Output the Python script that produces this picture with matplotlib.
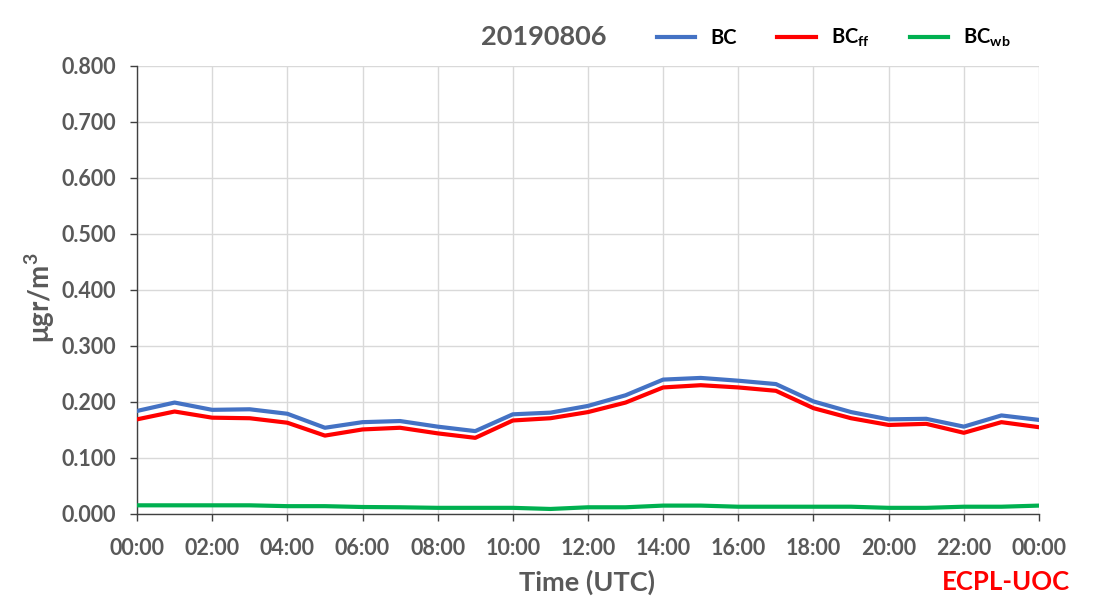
import matplotlib
matplotlib.use("Agg")
import matplotlib.pyplot as plt

hours = list(range(25))
bc = [0.184, 0.199, 0.186, 0.187, 0.179, 0.154, 0.164, 0.166, 0.156, 0.148, 0.178, 0.181, 0.193,
      0.212, 0.240, 0.243, 0.238, 0.232, 0.201, 0.182, 0.169, 0.170, 0.156, 0.176, 0.168]
bc_ff = [0.169, 0.183, 0.172, 0.171, 0.163, 0.140, 0.151, 0.154, 0.144, 0.136, 0.167, 0.171, 0.182,
         0.199, 0.226, 0.230, 0.226, 0.220, 0.189, 0.171, 0.159, 0.161, 0.145, 0.164, 0.155]
bc_wb = [0.0155, 0.0155, 0.0155, 0.0155, 0.014, 0.014, 0.0125, 0.012, 0.011, 0.011, 0.011, 0.009, 0.012,
         0.012, 0.015, 0.015, 0.013, 0.013, 0.013, 0.013, 0.011, 0.011, 0.013, 0.013, 0.015]
xtick_labels = ["00:00", "02:00", "04:00", "06:00", "08:00", "10:00", "12:00",
                "14:00", "16:00", "18:00", "20:00", "22:00", "00:00"]
yticks = [0.0, 0.1, 0.2, 0.3, 0.4, 0.5, 0.6, 0.7, 0.8]

plt.rcParams['font.family'] = ['Lato', 'DejaVu Sans']
plt.rcParams['mathtext.fontset'] = 'custom'
plt.rcParams['mathtext.rm'] = 'Lato:bold'
plt.rcParams['mathtext.bf'] = 'Lato:bold'
plt.rcParams['mathtext.it'] = 'Lato:bold'

gray = '#595959'
fig = plt.figure(figsize=(11, 6.16), dpi=100)
ax = fig.add_axes([137/1100, 1-514/616, (1039-137)/1100, (514-66)/616])

ax.plot(hours, bc, color='#4472C4', lw=3, label='BC', zorder=3)
ax.plot(hours, bc_ff, color='#FF0000', lw=3, label=r'BC$_{\mathrm{ff}}$', zorder=3)
ax.plot(hours, bc_wb, color='#00B050', lw=3, label=r'BC$_{\mathrm{wb}}$', zorder=3)

ax.set_xlim(0, 24)
ax.set_ylim(0, 0.8)
ax.set_xticks(list(range(0, 25, 2)))
ax.set_xticklabels(xtick_labels)
ax.set_yticks(yticks)
ax.set_yticklabels([f"{v:.3f}" for v in yticks])
ax.grid(True, color='#D9D9D9', lw=1)
ax.set_axisbelow(True)
for s in ['top', 'right']:
    ax.spines[s].set_visible(False)
for s in ['left', 'bottom']:
    ax.spines[s].set_color('#404040')
    ax.spines[s].set_linewidth(1)
ax.tick_params(axis='both', colors='#404040', length=5, width=1, direction='out',
               labelcolor=gray, labelsize=15.5)
ax.tick_params(axis='x', pad=12)
ax.tick_params(axis='y', pad=10)
for lbl in ax.get_xticklabels() + ax.get_yticklabels():
    lbl.set_fontweight('bold')

fig.text(40/1100, 1-298/616, r'μgr/m$^{3}$', fontsize=20, fontweight='bold', color=gray,
         rotation=90, ha='center', va='center')
fig.text(587/1100, 1-582/616, 'Time (UTC)', fontsize=19.5, fontweight='bold', color=gray,
         ha='center', va='center')

fig.text(544/1100, 1-37/616, '20190806', fontsize=19.5, fontweight='bold', color=gray,
         ha='center', va='center')
fig.text(1006/1100, 1-582/616, 'ECPL-UOC', fontsize=18.5, fontweight='bold', color='#FF0000',
         ha='center', va='center')

leg = fig.legend(loc='center', bbox_to_anchor=(834/1100, 1-38/616), ncol=3, frameon=False,
                 handlelength=1.9, handletextpad=0.75, columnspacing=2.0,
                 prop={'weight': 'bold', 'size': 14.5})

fig.savefig('out.png', dpi=100)
